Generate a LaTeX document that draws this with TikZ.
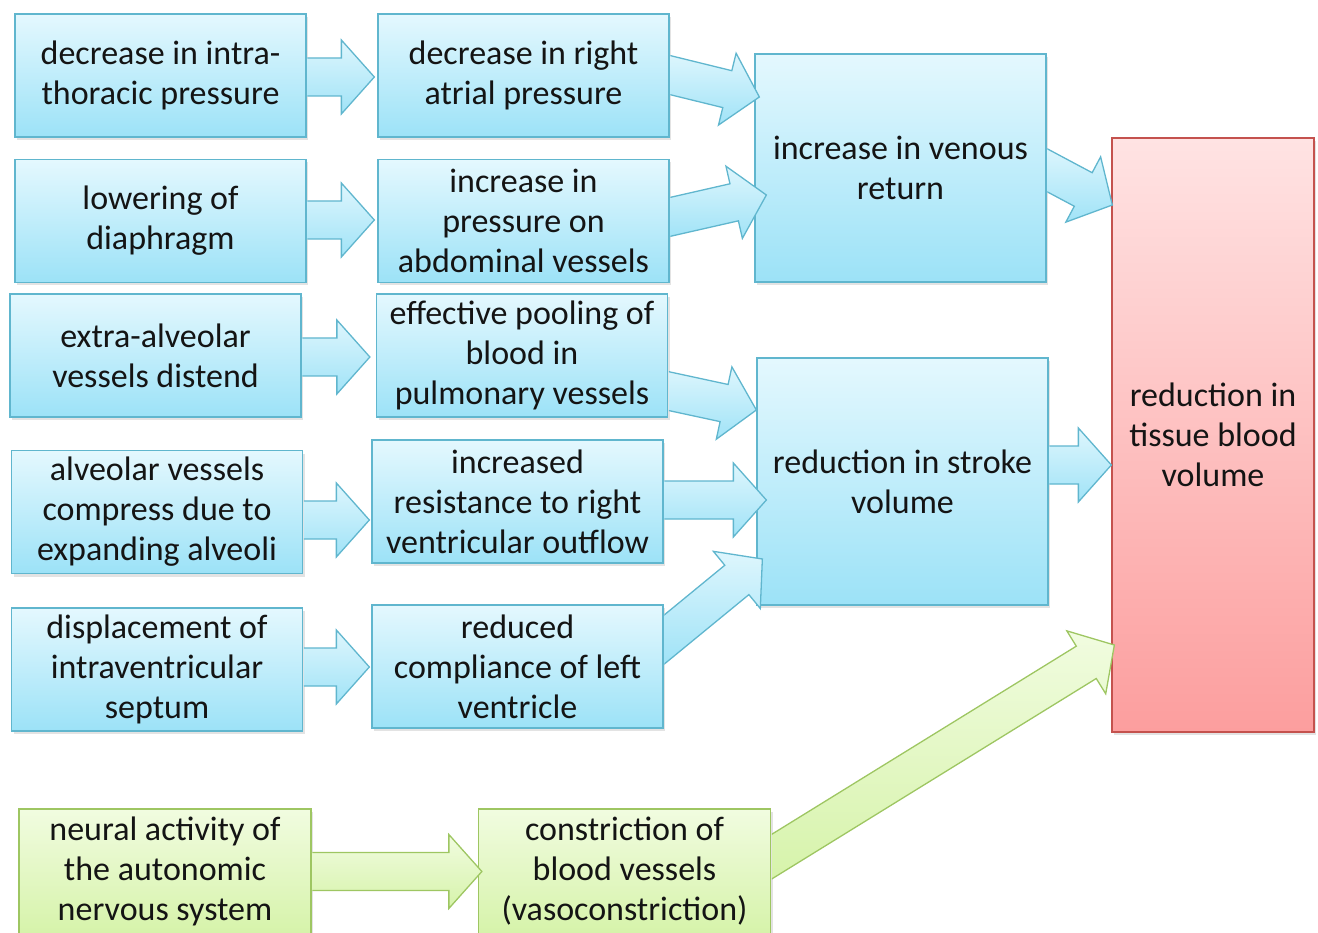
\documentclass[tikz,border=0pt]{standalone}
\usepackage{fontspec}
\setmainfont{Carlito}
\usetikzlibrary{calc,shadows}
\definecolor{bTop}{RGB}{228,248,254}
\definecolor{bBot}{RGB}{156,226,247}
\definecolor{bLine}{RGB}{96,182,206}
\definecolor{baTop}{RGB}{222,246,253}
\definecolor{baBot}{RGB}{160,227,247}
\definecolor{rTop}{RGB}{255,227,227}
\definecolor{rBot}{RGB}{252,158,158}
\definecolor{rLine}{RGB}{196,82,78}
\definecolor{gTop}{RGB}{241,252,224}
\definecolor{gBot}{RGB}{214,243,170}
\definecolor{gLine}{RGB}{158,198,98}
\definecolor{txt}{RGB}{20,20,20}

% block arrow: #1 style, #2 start (on source edge), #3 tip
\newcommand\barrow[3]{%
  \begin{scope}
    \coordinate (be) at (#3);
    \coordinate (bsz) at (#2);
    \coordinate (bs) at ($(bsz)!-15pt!(be)$);
    \coordinate (bh) at ($(be)!33pt!(bs)$);
    \clip let \p1=(bsz) in (\x1+0.7pt,20pt) rectangle (1400pt,-1000pt);
    \draw[#1] ($(bs)!19pt!90:(be)$) -- ($(bh)!19pt!-90:(bs)$) -- ($(bh)!37pt!-90:(bs)$)
      -- (be) -- ($(bh)!37pt!90:(bs)$) -- ($(bh)!19pt!90:(bs)$) -- ($(bs)!19pt!-90:(be)$) -- cycle;
  \end{scope}}

\begin{document}
\begin{tikzpicture}[x=1pt,y=-1pt,
  box/.style={draw, line width=1.3pt, align=center, inner sep=0pt, text=txt,
    font=\fontsize{34}{40}\selectfont,
    drop shadow={shadow xshift=2pt,shadow yshift=-3pt,opacity=0.22}},
  bluebox/.style={box, draw=bLine, top color=bTop, bottom color=bBot,
    minimum width=291pt, minimum height=123pt},
  greenbox/.style={box, draw=gLine, top color=gTop, bottom color=gBot,
    minimum width=292pt, minimum height=125pt},
  redbox/.style={box, draw=rLine, top color=rTop, bottom color=rBot},
  bluearrow/.style={draw=bLine, line width=1.3pt, line join=miter, top color=baTop, bottom color=baBot},
  greenarrow/.style={draw=gLine, line width=1.3pt, line join=miter, top color=gTop, bottom color=gBot}
]
\useasboundingbox (0,0) rectangle (1318,933);

% left column
\node[bluebox] (a1) at (160.5,75.5) {decrease in intra-\\thoracic pressure};
\node[bluebox] (a2) at (160.5,221) {lowering of\\diaphragm};
\node[bluebox] (a3) at (155.5,355.5) {extra-alveolar\\vessels distend};
\node[bluebox] (a4) at (157,512) {alveolar vessels\\compress due to\\expanding alveoli};
\node[bluebox] (a5) at (157,669.5) {displacement of\\intraventricular\\septum};
\node[greenbox] (a6) at (165,871.5) {neural activity of\\the autonomic\\nervous system};

% middle column
\node[bluebox] (b1) at (523.5,75.5) {decrease in right\\atrial pressure};
\node[bluebox] (b2) at (523.5,221) {increase in\\pressure on\\abdominal vessels};
\node[bluebox] (b3) at (522,355.5) {effective pooling of\\blood in\\pulmonary vessels};
\node[bluebox] (b4) at (517.5,501.5) {increased\\resistance to right\\ventricular outflow};
\node[bluebox] (b5) at (517.5,666.5) {reduced\\compliance of left\\ventricle};
\node[greenbox] (b6) at (624.5,871.5) {constriction of\\blood vessels\\(vasoconstriction)};

% right columns
\node[bluebox, minimum height=228pt] (c1) at (900.5,168) {increase in venous\\return};
\node[bluebox, minimum height=247pt] (c2) at (902.5,481.5) {reduction in stroke\\volume};
\node[redbox, minimum width=202pt, minimum height=594pt] (d) at (1213,435) {reduction in\\tissue blood\\volume};

% arrows
\barrow{bluearrow}{$(a1.east)+(0,1.5)$}{$(b1.west)+(-3,1.5)$}
\barrow{bluearrow}{$(a2.east)+(0,-1)$}{$(b2.west)+(-3,-1)$}
\barrow{bluearrow}{$(a3.east)+(0,1.5)$}{$(b3.west)+(-6,1.5)$}
\barrow{bluearrow}{$(a4.east)+(0,8)$}{$(b4.west)+(-2,18.5)$}
\barrow{bluearrow}{$(a5.east)+(0,-2.5)$}{$(b5.west)+(-2,0.5)$}
\barrow{greenarrow}{a6.east}{$(b6.west)+(4,0)$}

\barrow{bluearrow}{$(b1.east)+(0,-0.5)$}{$(c1.west)+(5,-71)$}
\barrow{bluearrow}{$(b2.east)+(0,-4)$}{$(c1.west)+(12,27)$}
\barrow{bluearrow}{$(b3.east)+(0,35.5)$}{$(c2.west)+(0,-71.5)$}
\barrow{bluearrow}{$(b4.east)+(0,-1.5)$}{$(c2.west)+(10,18.5)$}
\barrow{bluearrow}{$(b5.east)+(0,-26.5)$}{$(c2.west)+(6,77.5)$}

\barrow{bluearrow}{$(c1.east)+(0,2)$}{$(d.west)+(1,-230)$}
\barrow{bluearrow}{$(c2.east)+(0,-16.5)$}{$(d.west)+(0,30)$}
\barrow{greenarrow}{$(b6.east)+(0,-14.5)$}{$(d.west)+(3,210)$}
\end{tikzpicture}
\end{document}
